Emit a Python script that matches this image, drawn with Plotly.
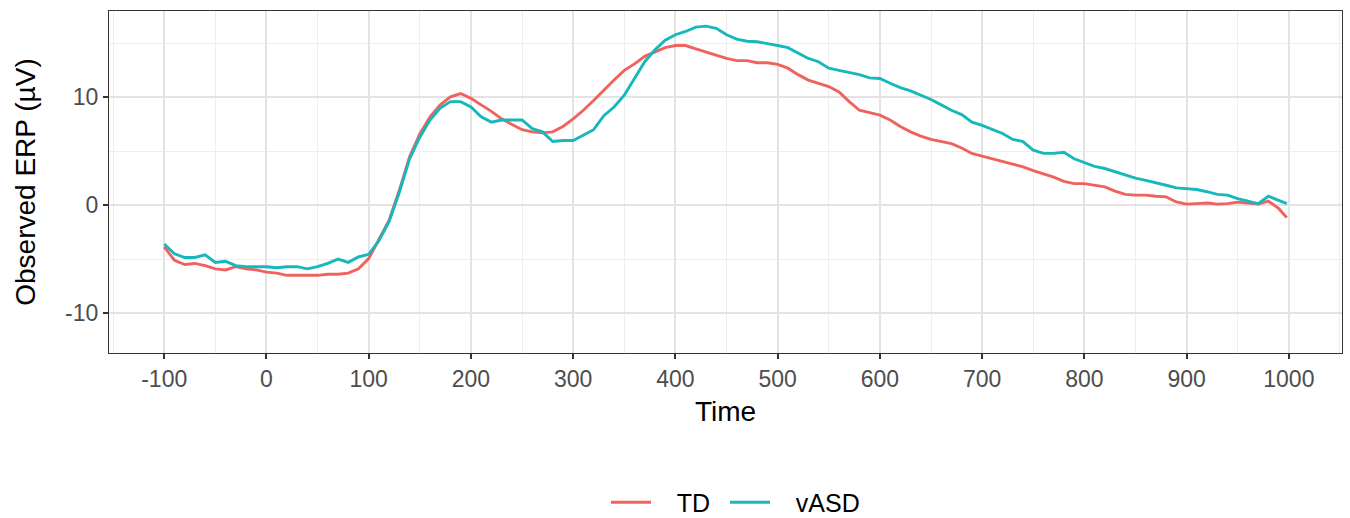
import plotly.graph_objects as go

time_ms = [-100, -90, -80, -70, -60, -50, -40, -30, -20, -10,
           0, 10, 20, 30, 40, 50, 60, 70, 80, 90,
           100, 110, 120, 130, 140, 150, 160, 170, 180, 190,
           200, 210, 220, 230, 240, 250, 260, 270, 280, 290,
           300, 310, 320, 330, 340, 350, 360, 370, 380, 390,
           400, 410, 420, 430, 440, 450, 460, 470, 480, 490,
           500, 510, 520, 530, 540, 550, 560, 570, 580, 590,
           600, 610, 620, 630, 640, 650, 660, 670, 680, 690,
           700, 710, 720, 730, 740, 750, 760, 770, 780, 790,
           800, 810, 820, 830, 840, 850, 860, 870, 880, 890,
           900, 910, 920, 930, 940, 950, 960, 970, 980, 990, 998]

td_erp = [-3.87, -5.1, -5.5, -5.4, -5.6, -5.9, -6.0, -5.7, -5.9, -6.0,
          -6.2, -6.3, -6.5, -6.5, -6.5, -6.5, -6.4, -6.4, -6.3, -5.9,
          -4.95, -3.2, -1.4, 1.4, 4.5, 6.6, 8.2, 9.3, 10.05, 10.35,
          9.9, 9.3, 8.7, 8.0, 7.5, 7.0, 6.8, 6.7, 6.8, 7.3,
          8.0, 8.8, 9.7, 10.7, 11.6, 12.5, 13.1, 13.8, 14.2, 14.6,
          14.8, 14.8, 14.5, 14.2, 13.9, 13.6, 13.4, 13.4, 13.2, 13.2,
          13.05, 12.7, 12.1, 11.6, 11.3, 11.0, 10.5, 9.6, 8.8, 8.6,
          8.35, 7.9, 7.3, 6.8, 6.4, 6.1, 5.9, 5.7, 5.3, 4.8,
          4.55, 4.3, 4.05, 3.8, 3.55, 3.2, 2.9, 2.6, 2.2, 2.0,
          2.0, 1.85, 1.7, 1.3, 1.0, 0.93, 0.93, 0.83, 0.77, 0.3,
          0.1, 0.15, 0.2, 0.1, 0.15, 0.28, 0.2, 0.1, 0.37, -0.3, -1.15]

vasd_erp = [-3.6, -4.5, -4.85, -4.85, -4.6, -5.3, -5.2, -5.6, -5.7, -5.7,
            -5.7, -5.8, -5.7, -5.7, -5.9, -5.7, -5.4, -5.0, -5.3, -4.8,
            -4.55, -3.3, -1.5, 1.2, 4.3, 6.3, 7.9, 9.0, 9.6, 9.6,
            9.1, 8.2, 7.7, 7.9, 7.9, 7.9, 7.1, 6.8, 5.9, 6.0,
            6.0, 6.5, 7.0, 8.3, 9.1, 10.2, 11.75, 13.3, 14.4, 15.3,
            15.8, 16.1, 16.5, 16.6, 16.4, 15.8, 15.4, 15.2, 15.15, 15.0,
            14.8, 14.6, 14.1, 13.6, 13.3, 12.7, 12.5, 12.3, 12.1, 11.8,
            11.75, 11.3, 10.9, 10.6, 10.2, 9.8, 9.3, 8.8, 8.4, 7.7,
            7.4, 7.0, 6.65, 6.1, 5.9, 5.1, 4.8, 4.8, 4.9, 4.3,
            3.95, 3.6, 3.4, 3.1, 2.8, 2.5, 2.3, 2.1, 1.85, 1.6,
            1.55, 1.45, 1.25, 1.0, 0.93, 0.6, 0.37, 0.15, 0.83, 0.46, 0.15]

series_names = ["TD", "vASD"]

x_tick_vals = [-100, 0, 100, 200, 300, 400, 500, 600, 700, 800, 900, 1000]
x_tick_labels = ["-100", "0", "100", "200", "300", "400", "500", "600", "700", "800", "900", "1000"]
x_minor_vals = [-150, -50, 50, 150, 250, 350, 450, 550, 650, 750, 850, 950, 1050]
y_tick_vals = [-10, 0, 10]
y_tick_labels = ["-10", "0", "10"]
y_minor_vals = [-5, 5, 15]

FONT = "Liberation Sans, Arial, sans-serif"
NBSP = "\u00a0"

fig = go.Figure()
fig.add_trace(go.Scatter(x=time_ms, y=td_erp, mode="lines", name=NBSP * 3 + series_names[0],
                         line=dict(color="#F0625E", width=2.9), legend="legend"))
fig.add_trace(go.Scatter(x=time_ms, y=vasd_erp, mode="lines", name=NBSP * 3 + series_names[1],
                         line=dict(color="#17B8BB", width=2.9), legend="legend2"))

axis_common = dict(
    showline=True, mirror=True, linecolor="#333333", linewidth=1.3,
    ticks="outside", ticklen=5, tickwidth=1.5, tickcolor="#333333",
    tickfont=dict(family=FONT, size=23, color="#4D4D4D"),
    showgrid=True, gridcolor="#E3E3E3", gridwidth=1.8, zeroline=False,
)

legend_common = dict(
    orientation="h", xref="container", xanchor="left",
    y=0.03, yref="container", yanchor="middle",
    font=dict(family=FONT, size=25, color="black"),
    bgcolor="rgba(0,0,0,0)", itemwidth=40,
)

fig.update_layout(
    width=1350, height=518,
    margin=dict(l=109, r=8, t=11, b=165),
    paper_bgcolor="white", plot_bgcolor="white",
    font=dict(family=FONT, color="black"),
    xaxis=dict(
        range=[-154, 1052], tickmode="array", tickvals=x_tick_vals, ticktext=x_tick_labels,
        title=dict(text="Time", font=dict(family=FONT, size=28, color="black"), standoff=10),
        minor=dict(tickmode="array", tickvals=x_minor_vals, showgrid=True,
                   gridcolor="#EEEEEE", gridwidth=1.3, ticks=""),
        **axis_common,
    ),
    yaxis=dict(
        range=[-13.7, 18.0], tickmode="array", tickvals=y_tick_vals, ticktext=y_tick_labels,
        title=dict(text="Observed ERP (µV)", font=dict(family=FONT, size=28, color="black"), standoff=21),
        minor=dict(tickmode="array", tickvals=y_minor_vals, showgrid=True,
                   gridcolor="#EEEEEE", gridwidth=1.3, ticks=""),
        **axis_common,
    ),
    legend=dict(x=606 / 1350, **legend_common),
    legend2=dict(x=725 / 1350, **legend_common),
    showlegend=True,
)

fig.write_html("out.html")
